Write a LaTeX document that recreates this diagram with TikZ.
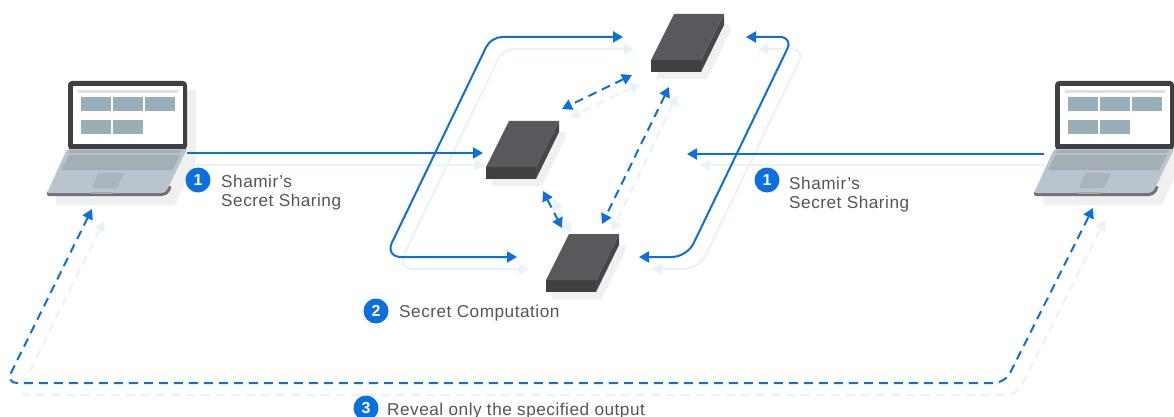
\documentclass[tikz,border=0pt]{standalone}
\usepackage{fontspec}
\setmainfont[LetterSpace=3]{Liberation Sans}
\usetikzlibrary{arrows.meta}
\definecolor{blueline}{HTML}{0B6FE0}
\definecolor{ghostline}{HTML}{E9F2FB}
\definecolor{labelgrey}{HTML}{555558}
\definecolor{shadowgrey}{HTML}{F0F0F0}
\definecolor{bezelgrey}{HTML}{3F4042}
\definecolor{tilegrey}{HTML}{98AEB8}
\definecolor{basegrey}{HTML}{B9C4CE}
\definecolor{keygrey}{HTML}{A5ADB5}
\definecolor{edgegrey}{HTML}{6E7276}
\definecolor{srvtop}{HTML}{59595D}
\definecolor{srvfront}{HTML}{404042}
\definecolor{srvside}{HTML}{47474A}
\tikzset{
  x=1pt,y=-1pt,
  linkline/.style={line width=2pt,color=blueline,{Triangle[length=10pt,width=11pt]}-{Triangle[length=10pt,width=11pt]}},
  onetip/.style={line width=2pt,color=blueline,-{Triangle[length=10pt,width=11pt]}},
  ghost/.style={color=ghostline},
  dashlink/.style={linkline,dash pattern=on 9pt off 6pt},
  badge/.style={circle,fill=blueline,minimum size=25pt,inner sep=0pt,text=white,font=\fontsize{16}{16}\selectfont\bfseries},
  caption/.style={anchor=west,align=left,text=labelgrey,inner sep=0pt,font=\fontsize{17.2}{19}\selectfont},
  laptop/.pic={
    \fill[shadowgrey] (187,90) -- (196,90) -- (196,160) -- (175,205) -- (56,205) -- (56,190) -- (166,190) -- cycle;
    \fill[bezelgrey,rounded corners=4pt] (68,150) -- (68,81) -- (187,81) -- (187,150) -- cycle;
    \fill[white] (73,86) rectangle (183,144);
    \fill[black!12] (78,90) rectangle (178,93);
    \foreach \a/\b/\c/\d in {81/97/111/111,113/97/143/111,145/97/175/111,81/120/111/134,113/120/143/134}
      \fill[tilegrey] (\a,\b) rectangle (\c,\d);
    \fill[edgegrey,rounded corners=2pt] (47,191) -- (47,196) -- (164,196) -- (169,193) -- (172,186) -- cycle;
    \fill[basegrey,rounded corners=2pt] (67,149) -- (187,149) -- (167,190) -- (164,193) -- (47,193) -- cycle;
    \fill[keygrey] (70,150) -- (182,150) -- (180,153) -- (69,153) -- cycle;
    \fill[keygrey] (69,155) -- (180,155) -- (172,170) -- (61,170) -- cycle;
    \fill[keygrey!70!basegrey,rounded corners=1.5pt] (98,173) -- (124,173) -- (117,188) -- (92,188) -- cycle;
    \fill[black!35] (91,192) rectangle (113,194);
  },
  serverbox/.pic={
    \fill[shadowgrey] (724,25) -- (730,25) -- (730,32) -- (707,79) -- (657,79) -- (657,72) -- (701,72) -- cycle;
    \fill[srvside] (724,14) -- (724,25) -- (701,72) -- (701,60) -- cycle;
    \fill[srvfront] (651,60) rectangle (701,72);
    \fill[srvtop] (674,14) -- (724,14) -- (701,60) -- (651,60) -- cycle;
  },
}
\begin{document}
\begin{tikzpicture}
\useasboundingbox (0,0) rectangle (1174,417);
% ports
\coordinate (lapLout) at (187,153);
\coordinate (lapLghost) at (187,165);
\coordinate (midIn) at (483,153);
\coordinate (midGhost) at (485,165);
\coordinate (lapRout) at (1044,154);
\coordinate (lapRghost) at (1045,165);
\coordinate (gapIn) at (687,154);
\coordinate (gapGhost) at (700,165);
\coordinate (topL) at (623,37);
\coordinate (topLg) at (634,49);
\coordinate (botL) at (517,257);
\coordinate (botLg) at (529,269);
\coordinate (topR) at (746,37);
\coordinate (topRg) at (758,49);
\coordinate (botR) at (639,257);
\coordinate (botRg) at (652,269);
\coordinate (lapLin) at (92,209);
\coordinate (lapLing) at (104,221);
\coordinate (lapRin) at (1093,208);
\coordinate (lapRing) at (1105,220);
% ghost layer
\draw[onetip,ghost] (lapLghost) -- (midGhost);
\draw[onetip,ghost] (lapRghost) -- (gapGhost);
\draw[linkline,ghost] (topLg) [rounded corners=11pt] -- (503,49) [rounded corners=16pt] -- (397,269) -- (botLg);
\draw[linkline,ghost] (topRg) [rounded corners=13pt] -- (805,49) [rounded corners=15pt] -- (699,269) -- (botRg);
\draw[dashlink,ghost] (640,84) -- (570,117);
\draw[dashlink,ghost] (677,95) -- (612,231);
\draw[dashlink,ghost] (553,200) -- (571,233);
\draw[dashlink,ghost,rounded corners=11pt] (lapLing) -- (18,395) -- (1017,395) -- (lapRing);
% devices
\pic (lapL) at (0,0) {laptop};
\pic (lapR) at (987,0) {laptop};
\pic (srvT) at (0,0) {serverbox};
\pic (srvM) at (-165,107) {serverbox};
\pic (srvB) at (-105,220) {serverbox};
% links
\draw[onetip] (lapLout) -- (midIn);
\draw[onetip] (lapRout) -- (gapIn);
\draw[linkline] (topL) [rounded corners=11pt] -- (491,37) [rounded corners=16pt] -- (385,257) -- (botL);
\draw[linkline] (topR) [rounded corners=13pt] -- (793,37) [rounded corners=15pt] -- (687,257) -- (botR);
\coordinate (dTM) at (632,75); \coordinate (dMT) at (562,109);
\coordinate (dTB) at (669,87); \coordinate (dBT) at (602,224);
\coordinate (dMB) at (543,191); \coordinate (dBM) at (562,228);
\draw[dashlink] (dTM) -- (dMT);
\draw[dashlink] (dTB) -- (dBT);
\draw[dashlink] (dMB) -- (dBM);
\draw[dashlink,rounded corners=11pt] (lapLin) -- (6,383) -- (1005,383) -- (lapRin);
% labels
\node[badge] (b1l) at (198,180) {1};
\node[caption] (t1l) at (221,193) {Shamir’s\\Secret Sharing};
\node[badge] (b1r) at (767,180) {1};
\node[caption] (t1r) at (789,194.5) {Shamir’s\\Secret Sharing};
\node[badge] (b2) at (376,311) {2};
\node[caption] (t2) at (399,313) {Secret Computation};
\node[badge] (b3) at (366,408) {3};
\node[caption] (t3) at (387,411) {Reveal only the specified output};
\end{tikzpicture}
\end{document}
